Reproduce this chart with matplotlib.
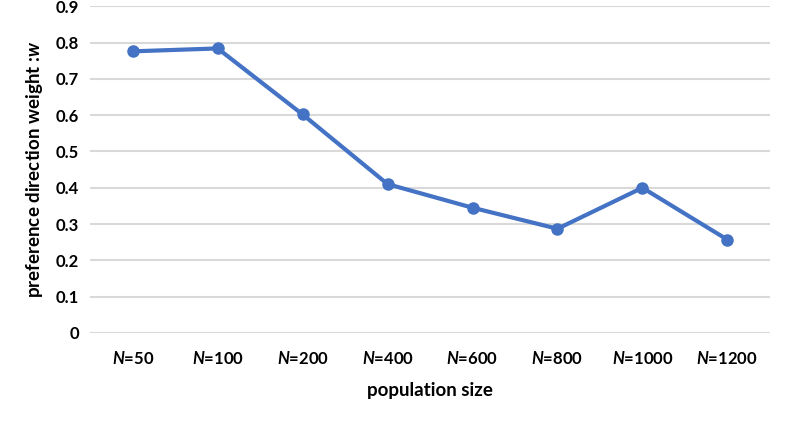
import numpy as np
import matplotlib
matplotlib.use('Agg')
import matplotlib.pyplot as plt

# --- data --- #
pop_sizes = ['50', '100', '200', '400', '600', '800', '1000', '1200']
weights = [0.776, 0.784, 0.602, 0.41, 0.345, 0.287, 0.40, 0.257]

plt.rcParams['font.family'] = ['Lato', 'DejaVu Sans']
plt.rcParams['font.weight'] = 'bold'
plt.rcParams['mathtext.fontset'] = 'custom'
plt.rcParams['mathtext.it'] = 'Lato:italic:bold'
plt.rcParams['mathtext.bfit'] = 'Lato:italic:bold'
plt.rcParams['mathtext.rm'] = 'Lato:bold'

fig = plt.figure(figsize=(7.92, 4.23), dpi=100)
ax = fig.add_axes([0.114, 0.213, 0.858, 0.772])

x = np.arange(len(pop_sizes))
ax.plot(x, weights, color='#4472C4', linewidth=3, marker='o', markersize=8)

ax.set_xlim(-0.5, len(pop_sizes) - 0.5)
ax.set_ylim(0, 0.9)
ax.set_yticks(np.arange(0, 0.91, 0.1))
ax.set_yticklabels(['0'] + ['%.1f' % v for v in np.arange(0.1, 0.91, 0.1)])
ax.set_xticks(x)
ax.set_xticklabels([r'$N$=' + s for s in pop_sizes])

ax.grid(True, axis='y', color='#D9D9D9', linewidth=1.5)
ax.set_axisbelow(True)
for sp in ax.spines.values():
    sp.set_visible(False)
ax.tick_params(length=0, labelsize=12, colors='black')
ax.tick_params(axis='x', pad=12)
ax.tick_params(axis='y', pad=8)

ax.set_xlabel('population size', fontsize=13.5, fontweight='bold', labelpad=11)
ax.set_ylabel(r'preference direction weight :$w$', fontsize=13.5, fontweight='bold', labelpad=8)

plt.savefig('out.png', dpi=100)
